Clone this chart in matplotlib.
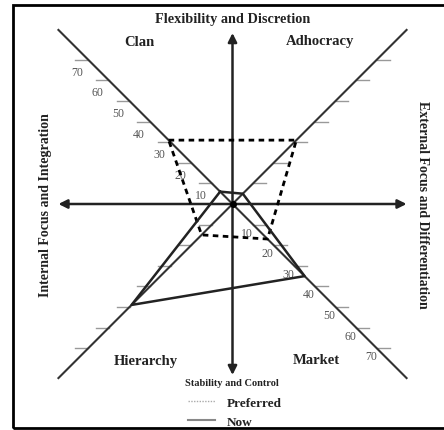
import numpy as np
import matplotlib
matplotlib.use("Agg")
import matplotlib.pyplot as plt
from matplotlib.lines import Line2D
from matplotlib.patches import Rectangle

# Competing values framework - culture profile
quadrants = ["Clan", "Adhocracy", "Market", "Hierarchy"]
now = [6, 5, 35, 49]
preferred = [31, 31, 17, 15]
tick_values = [10, 20, 30, 40, 50, 60, 70]

# direction of each quadrant on the diagonals
dir_x = np.array([-1, 1, 1, -1])
dir_y = np.array([1, 1, -1, -1])

W, H = 444, 431
CX, CY = 232.5, 205.0   # centre in pixels
S = 2.06                 # pixels per unit
AXLEN = 84.5

fig = plt.figure(figsize=(W / 100, H / 100), dpi=100)
ax = fig.add_axes([0, 0, 1, 1])
ax.set_xlim(-CX / S, (W - CX) / S)
ax.set_ylim(-(H - CY) / S, CY / S)
ax.axis("off")

serif = ["Liberation Serif", "DejaVu Serif"]
dark = "#222222"

def fx(x):
    return x / W

def fy(y):
    return 1 - y / H

# frame (right side is cropped off in the picture)
fig.patches.append(Rectangle((fx(13), fy(429)), 1.2, fy(6) - fy(429), transform=fig.transFigure,
                             fill=False, lw=2, ec="black", clip_on=False))

# diagonals
for sx in (-1, 1):
    ax.plot([-AXLEN * sx, AXLEN * sx], [AXLEN, -AXLEN], color="#333333", lw=1.5, zorder=2)

# horizontal / vertical arrows
arrow = dict(arrowstyle="<|-|>", mutation_scale=13, lw=1.8, color=dark, shrinkA=0, shrinkB=0)
ax.annotate("", xy=(AXLEN, 0), xytext=(-AXLEN, 0), arrowprops=arrow)
ax.annotate("", xy=(0, 83), xytext=(0, -83), arrowprops=arrow)

# ticks on diagonals
tl = 6.3
for k in range(4):
    for v in tick_values:
        px, py = dir_x[k] * v, dir_y[k] * v
        ax.plot([px, px + dir_x[k] * tl], [py, py], color="#999999", lw=1, zorder=1)
        if quadrants[k] == "Clan":
            ax.text(px - 11 / S, py - 12 / S, str(v), fontsize=8.5, family=serif, color="#555555",
                    ha="center", va="center")
        elif quadrants[k] == "Market":
            ax.text(px - 6 / S, py - 8 / S, str(v), fontsize=8.5, family=serif, color="#555555",
                    ha="center", va="center")

# profiles
px_now = list(dir_x * np.array(now)) + [dir_x[0] * now[0]]
py_now = list(dir_y * np.array(now)) + [dir_y[0] * now[0]]
px_pref = list(dir_x * np.array(preferred)) + [dir_x[0] * preferred[0]]
py_pref = list(dir_y * np.array(preferred)) + [dir_y[0] * preferred[0]]
ax.plot(px_pref, py_pref, color="black", lw=2, ls=(0, (2, 1.6)), zorder=3)
ax.plot(px_now, py_now, color=dark, lw=1.8, zorder=3)
ax.plot([0], [0], "o", color="black", ms=4, zorder=4)

# labels
bold = dict(family=serif, fontweight="bold", color=dark, ha="center", va="center")
fig.text(fx(232.5), fy(20), "Flexibility and Discretion", fontsize=10.3, **bold)
fig.text(fx(139), fy(42), "Clan", fontsize=10.5, **bold)
fig.text(fx(320), fy(42), "Adhocracy", fontsize=10.5, **bold)
fig.text(fx(146), fy(361), "Hierarchy", fontsize=10.5, **bold)
fig.text(fx(316), fy(361), "Market", fontsize=10.5, **bold)
fig.text(fx(232), fy(384), "Stability and Control", fontsize=7.5, **bold)
fig.text(fx(45), fy(205), "Internal Focus and Integration", fontsize=10, rotation=90, **bold)
fig.text(fx(422), fy(205), "External Focus and Differentiation", fontsize=10, rotation=-90, **bold)

handles = [Line2D([], [], color="#aaaaaa", lw=1, ls=(0, (1, 1))),
           Line2D([], [], color="#888888", lw=1.5)]
leg = fig.legend(handles, ["Preferred", "Now"], loc="upper left", bbox_to_anchor=(fx(181), fy(391)),
                 frameon=False, borderpad=0, handlelength=2.1, handletextpad=0.9, labelspacing=0.5,
                 prop=dict(family=serif, weight="bold", size=9.5))
for t in leg.get_texts():
    t.set_color(dark)

fig.savefig("out.png", dpi=100)
